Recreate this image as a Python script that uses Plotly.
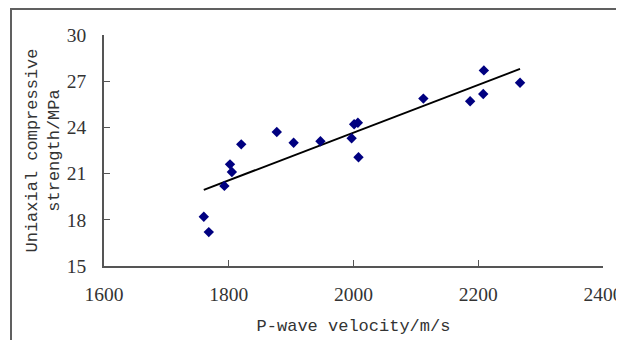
import plotly.graph_objects as go

velocity = [1760, 1768, 1793, 1802, 1805, 1820, 1877, 1904, 1947, 1997, 2001, 2007, 2008,
            2112, 2187, 2208, 2209, 2267]
strength = [18.2, 17.2, 20.2, 21.6, 21.1, 22.9, 23.7, 23.0, 23.1, 23.3, 24.2, 24.3, 22.06,
            25.87, 25.7, 26.17, 27.7, 26.9]
trend_x = [1760, 2267]
trend_y = [19.94, 27.8]

x_ticks = [1600, 1800, 2000, 2200, 2400]
y_ticks = [15, 18, 21, 24, 27, 30]

fig = go.Figure()
# invisible trace carrying the outer frame axes
fig.add_trace(go.Scatter(x=[0], y=[0], xaxis="x2", yaxis="y2", mode="markers",
                         marker=dict(opacity=0), showlegend=False, hoverinfo="skip"))
fig.add_trace(go.Scatter(x=trend_x, y=trend_y, mode="lines",
                         line=dict(color="black", width=2), showlegend=False,
                         cliponaxis=False))
fig.add_trace(go.Scatter(x=velocity, y=strength, mode="markers",
                         marker=dict(symbol="diamond", size=8, color="#000080"),
                         showlegend=False, cliponaxis=False))

tick_font = dict(family="Liberation Serif", size=19.5, color="#333333")
title_font = dict(family="Liberation Mono", size=17, color="#333333")

fig.update_layout(
    xaxis=dict(domain=[0.15033, 0.96569], anchor="y",
               range=[1600, 2400], tickvals=x_ticks, ticks="inside", ticklen=6,
               tickcolor="#555555", showline=True, linecolor="#555555", linewidth=1.5,
               showgrid=False, zeroline=False, tickfont=tick_font,
               ticklabelstandoff=10, automargin=False, ticklabeloverflow="allow",
               title=dict(text="P-wave velocity/m/s", font=title_font, standoff=15)),
    yaxis=dict(domain=[0.22424, 0.92424], anchor="x",
               range=[15, 30], tickvals=y_ticks, ticks="inside", ticklen=6,
               tickcolor="#555555", showline=True, linecolor="#555555", linewidth=1.5,
               showgrid=False, zeroline=False, tickfont=tick_font,
               ticklabelstandoff=12, automargin=False, ticklabeloverflow="allow",
               title=dict(text="Uniaxial compressive<br>strength/MPa", font=title_font,
                          standoff=3)),
    xaxis2=dict(domain=[0, 1], anchor="y2", side="top", range=[0, 1],
                showline=True, linecolor="#606060", linewidth=1.5,
                showticklabels=False, ticks="", showgrid=False, zeroline=False,
                automargin=False),
    yaxis2=dict(domain=[0, 1], anchor="x2", side="left", range=[0, 1],
                showline=True, linecolor="#606060", linewidth=1.5,
                showticklabels=False, ticks="", showgrid=False, zeroline=False,
                automargin=False),
    width=616, height=332,
    margin=dict(l=4, r=0, t=2, b=0),
    plot_bgcolor="rgba(0,0,0,0)", paper_bgcolor="white",
)

fig.write_html("out.html")
